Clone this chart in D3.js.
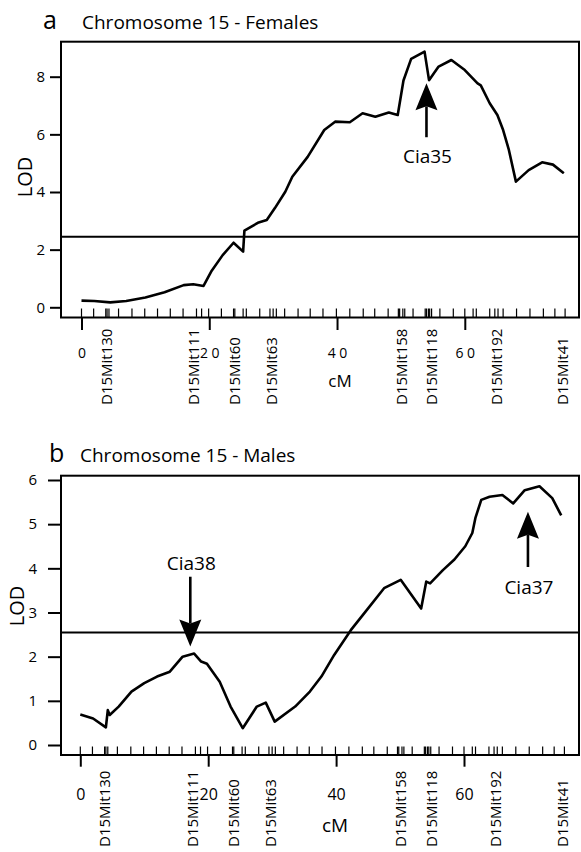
<!DOCTYPE html>
<html>
<head>
<meta charset="utf-8">
<script src="https://cdn.jsdelivr.net/npm/d3@7"></script>
<style>
  html, body { margin: 0; padding: 0; background: #fff; }
  svg { display: block; font-family: "Open Sans", sans-serif; }
</style>
</head>
<body>
<svg id="chart" width="581" height="852"></svg>
<script>
// LOD profiles along chromosome 15 (cM positions and LOD scores)
const femaleCM  = [0, 2, 4.5, 7, 10, 13, 16, 17.5, 19.1, 20.3, 22.1, 23.8, 25.3, 25.5, 27.6, 29, 30.3, 31.9, 33, 35.4, 38, 39.7, 42, 44, 46, 48.1, 49.5, 50.4, 51.6, 53.7, 54.4, 55.9, 57.9, 60, 62, 62.5, 63.9, 65.1, 66, 66.9, 68, 70, 72.1, 73.8, 75.5];
const femaleLOD = [0.23, 0.22, 0.17, 0.22, 0.34, 0.52, 0.77, 0.80, 0.74, 1.24, 1.81, 2.24, 1.93, 2.66, 2.93, 3.03, 3.45, 4.01, 4.53, 5.22, 6.15, 6.44, 6.42, 6.73, 6.61, 6.76, 6.67, 7.87, 8.62, 8.87, 7.88, 8.35, 8.58, 8.23, 7.77, 7.70, 7.08, 6.67, 6.15, 5.46, 4.36, 4.76, 5.03, 4.95, 4.65];

const maleCM  = [0, 2, 4, 4.3, 4.6, 6, 8, 10, 12, 14, 16, 17.8, 18.9, 19.8, 21.8, 23.5, 25.4, 27.6, 29, 30.4, 33.6, 35.9, 37.7, 39.7, 42.3, 44.6, 47.5, 50.1, 53.3, 54.1, 54.7, 56.7, 58.5, 60.2, 61.3, 61.8, 62.7, 64, 66, 67.7, 69.5, 71.8, 73.8, 75.2];
const maleLOD = [0.69, 0.60, 0.40, 0.79, 0.68, 0.87, 1.21, 1.40, 1.55, 1.66, 2.00, 2.07, 1.89, 1.84, 1.43, 0.87, 0.38, 0.87, 0.96, 0.53, 0.87, 1.21, 1.55, 2.04, 2.60, 3.02, 3.55, 3.74, 3.09, 3.70, 3.66, 3.96, 4.20, 4.50, 4.80, 5.15, 5.55, 5.62, 5.66, 5.47, 5.77, 5.86, 5.59, 5.20];

// Genetic map: microsatellite markers and analysis positions (cM)
const markerNames = ["D15Mit130", "D15Mit111", "D15Mit60", "D15Mit63", "D15Mit158", "D15Mit118", "D15Mit192", "D15Mit41"];
const markerCM    = [3.9, 17.6, 24.0, 29.8, 50.1, 54.9, 65.0, 75.4];
const rugCM = [0, 1.9, 3.8, 4.0, 4.3, 5.8, 7.9, 9.9, 11.9, 13.9, 15.9, 18.0, 18.8, 19.9, 21.9, 23.8, 24.0, 25.3, 25.8, 27.9, 29.5, 30.0, 30.5, 31.8, 33.9, 35.8, 37.8, 39.9, 42.0, 44.1, 45.9, 48.0, 49.6, 49.8, 50.3, 50.6, 51.9, 53.8, 54.0, 54.3, 54.5, 54.8, 56.1, 58.2, 60.0, 61.3, 61.8, 63.9, 64.7, 65.2, 66.0, 68.1, 70.2, 72.3, 74.1, 75.7];

// Axis ticks
const xTickValues  = [0, 20, 40, 60];
const xTickLabelsA = ["0", "2 0", "4 0", "6 0"];
const xTickLabelsB = ["0", "20", "40", "60"];
const yTicksA = [0, 2, 4, 6, 8];
const yTicksB = [0, 1, 2, 3, 4, 5, 6];

// Significance thresholds
const thresholdA = 2.45;
const thresholdB = 2.55;

// QTL annotations
const qtlNamesA = ["Cia35"];
const qtlCMA    = [54.0];
const qtlNamesB = ["Cia38", "Cia37"];
const qtlCMB    = [17.2, 70.0];

const svg = d3.select("#chart");

function arrow(g, x, yTail, yTip) {
  const dir = yTip > yTail ? 1 : -1;
  const headLen = 27, halfW = 11, notch = 4;
  g.append("line")
    .attr("x1", x).attr("x2", x)
    .attr("y1", yTail).attr("y2", yTip - dir * (headLen - notch))
    .attr("stroke", "#000").attr("stroke-width", 2.6);
  const base = yTip - dir * headLen;
  g.append("path")
    .attr("d", `M${x},${yTip} L${x - halfW},${base} L${x},${base + dir * notch} L${x + halfW},${base} Z`)
    .attr("fill", "#000");
}

function drawPanel(p) {
  const g = svg.append("g");
  const x = d3.scaleLinear().domain([0, 60]).range(p.xRange);
  const y = d3.scaleLinear().domain([0, p.yTicks[p.yTicks.length - 1]]).range(p.yRange);

  // Title
  g.append("text").attr("x", p.letterX).attr("y", p.titleY)
    .attr("font-size", 25).text(p.letter);
  g.append("text").attr("x", p.titleX).attr("y", p.titleY)
    .attr("font-size", 19).text(p.title);

  // Y axis
  const ya = g.append("g").attr("transform", `translate(${p.frame.left},0)`)
    .call(d3.axisLeft(y).tickValues(p.yTicks).tickSize(p.yTickSize).tickPadding(p.yTickPad).tickFormat(d3.format("d")));
  ya.select(".domain").remove();
  ya.selectAll("line").attr("stroke-width", 2);
  ya.selectAll("text").attr("font-size", 15).attr("font-family", "Open Sans, sans-serif").attr("fill", "#000");

  g.append("text")
    .attr("transform", `translate(${p.lodX},${p.lodY}) rotate(-90)`)
    .attr("text-anchor", "middle").attr("dy", "0.35em")
    .attr("font-size", 20).text("LOD");

  // X axis (major ticks below the frame)
  const xa = g.append("g").attr("transform", `translate(0,${p.frame.bottom})`)
    .call(d3.axisBottom(x).tickValues(xTickValues).tickSize(p.xTickSize)
      .tickFormat((d, i) => p.xLabels[i]));
  xa.select(".domain").remove();
  xa.selectAll("line").attr("stroke-width", 2);
  xa.selectAll("text").attr("font-size", p.xFont).attr("font-family", "Open Sans, sans-serif")
    .attr("fill", "#000").attr("y", p.xLabelDy).attr("dy", 0);

  // Rug of map positions
  g.append("g").selectAll("line").data(rugCM).join("line")
    .attr("x1", d => x(d)).attr("x2", d => x(d))
    .attr("y1", p.frame.bottom - p.rugLen).attr("y2", p.frame.bottom)
    .attr("stroke", "#000").attr("stroke-width", 1.2);

  // Marker names
  g.append("g").selectAll("text").data(markerNames).join("text")
    .attr("transform", (d, i) => `translate(${x(markerCM[i])},${p.markerBase}) rotate(-90)`)
    .attr("dy", "0.35em").attr("font-size", 15).text(d => d);

  g.append("text").attr("x", p.cmX).attr("y", p.cmY)
    .attr("text-anchor", "middle").attr("font-size", p.cmFont).text("cM");

  // Frame
  g.append("rect")
    .attr("x", p.frame.left).attr("y", p.frame.top)
    .attr("width", p.frame.right - p.frame.left).attr("height", p.frame.bottom - p.frame.top)
    .attr("fill", "none").attr("stroke", "#000").attr("stroke-width", 2);

  // Threshold
  g.append("line")
    .attr("x1", p.frame.left).attr("x2", p.frame.right)
    .attr("y1", y(p.threshold)).attr("y2", y(p.threshold))
    .attr("stroke", "#000").attr("stroke-width", 2);

  // LOD curve
  const line = d3.line().x(d => x(d[0])).y(d => y(d[1]));
  g.append("path").datum(p.cm.map((c, i) => [c, p.lod[i]]))
    .attr("d", line).attr("fill", "none").attr("stroke", "#000")
    .attr("stroke-width", 2.6).attr("stroke-linejoin", "round");

  // QTL arrows
  p.qtl.forEach((q, i) => {
    const cx = x(q.cm);
    arrow(g, cx, y(q.tail), y(q.tip));
    g.append("text").attr("x", cx + 1).attr("y", y(q.label))
      .attr("text-anchor", "middle").attr("font-size", 19).text(q.name);
  });
}

drawPanel({
  letter: "a", letterX: 43, title: "Chromosome 15 - Females", titleX: 82, titleY: 29,
  xRange: [81.5, 464.8], yRange: [307.3, 76.7], yTicks: yTicksA,
  frame: { left: 61, right: 579, top: 41.7, bottom: 317.5 },
  yTickSize: 11, yTickPad: 5, lodX: 25, lodY: 177,
  xTickSize: 12.5, xLabels: xTickLabelsA, xFont: 14, xLabelDy: 40,
  rugLen: 9, markerBase: 405, cmX: 340, cmY: 387, cmFont: 17,
  threshold: thresholdA, cm: femaleCM, lod: femaleLOD,
  qtl: qtlNamesA.map((n, i) => ({ name: n, cm: qtlCMA[i], tail: 5.9, tip: 7.77, label: 5.0 }))
});

drawPanel({
  letter: "b", letterX: 49, title: "Chromosome 15 - Males", titleX: 80, titleY: 462,
  xRange: [80.3, 464], yRange: [745, 480], yTicks: yTicksB,
  frame: { left: 61, right: 579, top: 475.7, bottom: 755 },
  yTickSize: 13, yTickPad: 11, lodX: 17, lodY: 606,
  xTickSize: 11.7, xLabels: xTickLabelsB, xFont: 16, xLabelDy: 45,
  rugLen: 8.5, markerBase: 847, cmX: 335, cmY: 832, cmFont: 19,
  threshold: thresholdB, cm: maleCM, lod: maleLOD,
  qtl: [
    { name: qtlNamesB[0], cm: qtlCMB[0], tail: 3.81, tip: 2.23, label: 3.97 },
    { name: qtlNamesB[1], cm: qtlCMB[1], tail: 4.03, tip: 5.28, label: 3.43 }
  ]
});
</script>
</body>
</html>
